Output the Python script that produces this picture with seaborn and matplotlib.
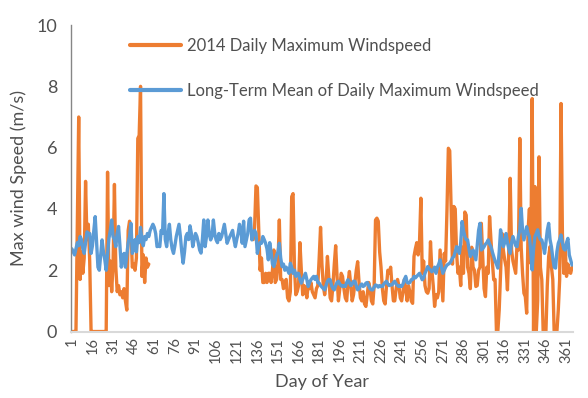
import matplotlib
matplotlib.use("Agg")
import matplotlib.pyplot as plt
from matplotlib.lines import Line2D
import seaborn as sns
import numpy as np
import pandas as pd

# 2014 daily maximum windspeed, days 1-57 (no data from day 58 to 132)
wind_2014_early = [
    0, 0, 0, 0, 3.5, 7.0, 1.7, 2.6, 1.9, 2.4,
    4.9, 3.0, 3.5, 2.3, 0, 0, 0, 0, 0, 0,
    0, 0, 0, 0, 0, 0, 5.2, 1.5, 2.3, 1.3,
    2.2, 4.8, 2.1, 1.3, 1.5, 1.2, 1.3, 1.1, 1.4, 1.0,
    0.7, 3.3, 3.6, 3.4, 2.1, 2.2, 2.0, 2.4, 6.3, 6.4,
    8.0, 1.8, 2.5, 1.6, 2.4, 2.1, 2.2,
]
early_start = 1

# 2014 daily maximum windspeed, days 133-365
wind_2014_late = [
    3.0, 3.4, 4.75, 4.7, 3.3, 2.0, 2.4, 1.6, 1.6, 1.9,
    1.6, 1.9, 1.9, 1.6, 2.0, 2.66, 1.6, 1.7, 2.2, 3.64,
    1.7, 1.7, 1.4, 1.6, 1.7, 1.1, 1.0, 1.3, 4.4, 4.5,
    2.1, 1.2, 1.3, 1.5, 2.9, 2.0, 1.2, 1.5, 1.4, 1.1,
    1.5, 1.4, 1.6, 1.3, 1.2, 1.1, 1.4, 1.5, 2.4, 3.4,
    2.2, 1.5, 1.2, 1.6, 2.45, 1.8, 1.1, 1.0, 1.5, 2.2,
    2.8, 1.8, 1.0, 1.4, 1.9, 1.8, 1.4, 1.1, 1.0, 1.6,
    1.96, 1.5, 1.0, 1.2, 1.6, 2.0, 2.28, 1.6, 1.1, 1.0,
    1.3, 0.9, 0.82, 1.2, 1.6, 1.4, 1.0, 0.9, 1.5, 3.64,
    3.7, 3.6, 2.6, 2.1, 1.4, 1.0, 0.9, 1.5, 2.0, 1.9,
    2.1, 1.5, 1.0, 1.0, 1.4, 1.7, 1.5, 1.1, 1.0, 1.3,
    1.7, 1.4, 1.0, 1.5, 1.3, 1.0, 0.92, 2.45, 2.7, 2.9,
    2.5, 2.9, 4.35, 1.9, 2.3, 1.5, 1.3, 1.25, 1.4, 2.93,
    2.0, 1.5, 0.82, 1.2, 1.1, 1.3, 2.66, 1.8, 1.0, 2.55,
    2.3, 3.97, 5.98, 5.9, 4.08, 2.2, 4.08, 4.0, 2.55, 1.9,
    2.1, 1.5, 2.75, 1.9, 3.9, 3.8, 2.1, 1.9, 1.4, 2.75,
    2.1, 2.0, 1.47, 1.5, 2.0, 2.1, 3.53, 2.5, 1.4, 1.14,
    2.1, 1.9, 3.75, 2.99, 2.3, 1.69, 1.7, 0.0, 0.0, 0.7,
    1.9, 3.2, 2.66, 2.34, 2.1, 1.36, 2.66, 5.0, 2.66, 2.3,
    2.1, 1.9, 2.88, 2.66, 6.3, 2.75, 1.9, 1.25, 1.14, 0.6,
    3.3, 4.0, 2.23, 7.6, 0.0, 4.73, 0.0, 1.0, 5.7, 2.1,
    1.69, 0.0, 0.0, 0.0, 1.5, 2.45, 2.77, 2.12, 1.7, 0.0,
    0.0, 0.0, 0.7, 1.69, 7.44, 3.2, 1.9, 2.77, 1.8, 2.2,
    1.95, 1.9, 2.1,
]
late_start = 133

# long-term mean of daily maximum windspeed, days 1-365
wind_mean = [
    2.7, 2.6, 2.5, 2.7, 2.9, 2.8, 3.1, 3.0, 2.7, 2.55,
    2.9, 3.25, 3.2, 3.2, 2.55, 2.8, 3.3, 3.75, 2.9, 2.1,
    2.0, 2.5, 2.99, 2.6, 2.34, 2.0, 2.5, 3.04, 3.3, 3.64,
    3.1, 3.0, 2.77, 3.2, 3.43, 2.8, 2.1, 2.4, 2.55, 2.1,
    2.5, 2.9, 3.1, 3.53, 2.55, 2.7, 3.0, 2.6, 3.1, 2.9,
    3.4, 3.0, 2.8, 3.1, 3.0, 3.2, 3.1, 3.3, 3.4, 3.5,
    3.4, 3.2, 2.77, 2.8, 2.77, 3.3, 3.2, 4.5, 3.0, 2.77,
    3.2, 3.5, 3.0, 2.7, 2.55, 2.8, 3.1, 3.3, 3.5, 3.1,
    2.6, 2.23, 2.6, 3.1, 3.2, 3.0, 3.45, 3.2, 2.77, 3.0,
    3.2, 3.1, 2.9, 2.66, 2.56, 3.0, 3.64, 2.77, 3.1, 3.64,
    3.2, 2.99, 3.1, 3.64, 3.2, 2.99, 2.9, 3.2, 3.0, 3.1,
    3.3, 3.5, 3.2, 2.88, 3.0, 3.1, 3.2, 3.3, 3.0, 2.77,
    3.0, 3.2, 3.5, 3.3, 2.88, 3.6, 2.77, 2.99, 3.2, 3.64,
    3.7, 2.99, 3.2, 3.3, 3.2, 2.55, 2.77, 2.9, 2.88, 3.1,
    3.0, 2.88, 2.7, 2.34, 2.9, 2.6, 2.2, 2.12, 2.3, 2.5,
    2.6, 2.88, 2.4, 2.12, 2.2, 2.0, 2.1, 2.01, 1.9, 2.23,
    2.1, 1.9, 2.0, 1.8, 1.9, 1.9, 1.7, 1.58, 1.7, 1.8,
    1.9, 1.7, 1.47, 1.6, 1.69, 1.75, 1.8, 1.7, 1.8, 1.6,
    1.58, 1.5, 1.45, 1.4, 1.36, 1.5, 1.64, 1.7, 1.69, 1.5,
    1.4, 1.36, 1.5, 1.6, 1.64, 1.55, 1.5, 1.47, 1.5, 1.47,
    1.6, 1.69, 1.6, 1.5, 1.55, 1.64, 1.64, 1.5, 1.36, 1.4,
    1.5, 1.55, 1.47, 1.5, 1.58, 1.6, 1.5, 1.4, 1.36, 1.36,
    1.45, 1.52, 1.5, 1.45, 1.5, 1.47, 1.47, 1.55, 1.6, 1.64,
    1.55, 1.5, 1.52, 1.52, 1.6, 1.64, 1.55, 1.5, 1.47, 1.5,
    1.47, 1.55, 1.7, 1.8, 1.6, 1.58, 1.6, 1.69, 1.7, 1.8,
    1.75, 1.8, 1.85, 1.9, 1.8, 1.69, 1.75, 1.9, 2.0, 2.12,
    2.05, 2.01, 1.95, 2.01, 2.1, 1.9, 2.1, 2.2, 2.34, 2.1,
    1.9, 2.0, 2.1, 2.17, 2.2, 2.23, 2.3, 2.4, 2.45, 2.6,
    2.77, 2.7, 2.55, 2.9, 3.59, 3.3, 3.1, 3.0, 2.99, 2.7,
    2.45, 2.55, 2.66, 2.5, 2.34, 2.8, 3.3, 3.53, 2.66, 2.7,
    2.77, 2.85, 2.9, 2.99, 2.85, 2.77, 2.6, 2.45, 2.3, 2.2,
    2.07, 2.6, 3.32, 3.0, 2.77, 2.9, 3.2, 2.9, 2.7, 2.55,
    2.9, 3.1, 2.95, 2.8, 2.77, 3.1, 3.32, 4.02, 3.3, 2.99,
    3.2, 3.42, 3.2, 3.1, 2.6, 2.01, 2.7, 3.1, 3.2, 3.32,
    3.1, 3.0, 2.99, 2.8, 2.55, 2.9, 3.3, 3.53, 3.0, 2.77,
    2.4, 2.1, 2.07, 2.6, 2.88, 3.0, 3.15, 2.9, 2.7, 2.66,
    2.9, 3.04, 2.5, 2.34, 2.17,
]

label_2014 = "2014 Daily Maximum Windspeed"
label_mean = "Long-Term Mean of Daily Maximum Windspeed"
xtick_days = list(range(1, 362, 15))
ytick_vals = [0, 2, 4, 6, 8, 10]

orange = "#ED7D31"
blue = "#5B9BD5"
text_col = "#505050"

# long-format table for seaborn
parts = [
    pd.DataFrame({"day": np.arange(early_start, early_start + len(wind_2014_early)),
                  "speed": wind_2014_early, "series": label_2014, "seg": 0}),
    pd.DataFrame({"day": np.arange(late_start, late_start + len(wind_2014_late)),
                  "speed": wind_2014_late, "series": label_2014, "seg": 1}),
    pd.DataFrame({"day": np.arange(1, len(wind_mean) + 1),
                  "speed": wind_mean, "series": label_mean, "seg": 2}),
]
df = pd.concat(parts, ignore_index=True)

sns.set_style("white")
plt.rcParams['font.family'] = ['Lato', 'DejaVu Sans']

fig = plt.figure(figsize=(5.88, 3.98), dpi=100)
ax = fig.add_axes([0.121, 0.167, 0.853, 0.770])

sns.lineplot(data=df, x="day", y="speed", hue="series", units="seg",
             estimator=None, sort=False, hue_order=[label_2014, label_mean],
             palette={label_2014: orange, label_mean: blue},
             linewidth=2.4, legend=False, ax=ax)

ax.set_xlim(0.5, 365.5)
ax.set_ylim(0, 10)
ax.set_xticks(xtick_days)
ax.set_xticklabels([str(d) for d in xtick_days], rotation=90, fontsize=10.5, color=text_col)
ax.set_yticks(ytick_vals)
ax.set_yticklabels([str(v) for v in ytick_vals], fontsize=13, color=text_col)
ax.tick_params(axis="x", length=0, pad=4)
ax.tick_params(axis="y", length=4, width=1, color="#868686", direction="out", pad=6)

ax.set_xlabel("Day of Year", fontsize=13, color=text_col, labelpad=8)
ax.set_ylabel("Max wind Speed (m/s)", fontsize=13, color=text_col, labelpad=7)

for s in ["top", "right"]:
    ax.spines[s].set_visible(False)
ax.spines["left"].set_color("#868686")
ax.spines["left"].set_linewidth(1.0)
ax.spines["bottom"].set_color("#d9d9d9")
ax.spines["bottom"].set_linewidth(1.5)
ax.grid(False)

handles = [Line2D([0], [0], color=orange, lw=3),
           Line2D([0], [0], color=blue, lw=3)]
leg = ax.legend(handles, [label_2014, label_mean], loc="upper left",
                bbox_to_anchor=(0.117, 0.958), frameon=False, fontsize=12,
                handlelength=3.1, handletextpad=0.35, labelspacing=1.75,
                borderpad=0, borderaxespad=0)
for t in leg.get_texts():
    t.set_color(text_col)

fig.savefig("out.png", dpi=100)
